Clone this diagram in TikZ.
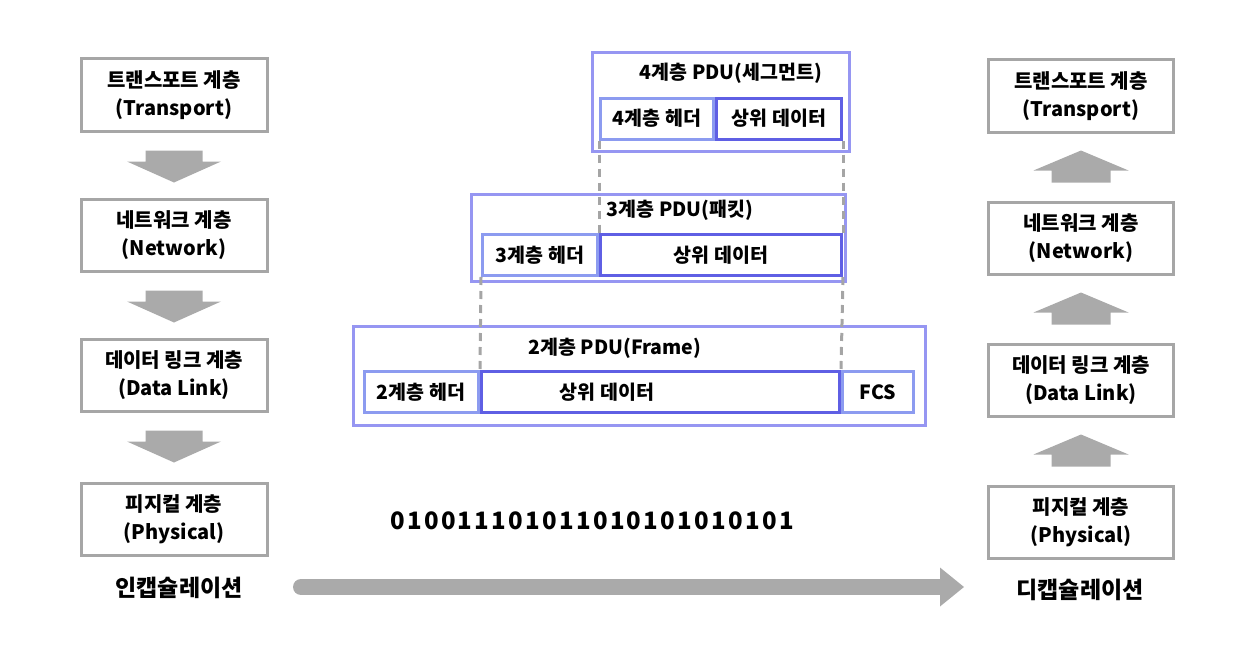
\documentclass[tikz,border=0pt]{standalone}
\usepackage{fontspec}
\setmainfont{Noto Sans CJK KR}
\definecolor{boxgray}{RGB}{166,166,166}
\definecolor{arrgray}{RGB}{170,170,170}
\definecolor{outblue}{RGB}{150,150,242}
\definecolor{hdblue}{RGB}{140,155,240}
\definecolor{dtblue}{RGB}{95,95,228}
\definecolor{dashgray}{RGB}{165,165,165}
\newcommand\dnarr[1]{\fill[arrgray] ([yshift=-18pt]#1.south) ++(-28.5,0) -- ++(0,11) -- ++(-18.5,0) -- ++(47,21) -- ++(47,-21) -- ++(-18.5,0) -- ++(0,-11) -- cycle;}
\newcommand\uparr[1]{\fill[arrgray] ([yshift=18pt]#1.north) ++(-29.5,0) -- ++(0,-12) -- ++(-18,0) -- ++(47.5,-20) -- ++(47.5,20) -- ++(-18,0) -- ++(0,12) -- cycle;}
\newcommand\bd[1]{\makebox[16.9pt]{#1}}
\begin{document}
\begin{tikzpicture}[x=1pt,y=-1pt,
  layerbox/.style={draw=boxgray,line width=3pt,minimum width=186pt,minimum height=72pt,inner sep=0pt,align=center,font=\fontsize{20}{28}\selectfont\bfseries},
  outbox/.style={draw=outblue,line width=3pt,inner sep=0pt},
  hdbox/.style={draw=hdblue,line width=3pt,inner sep=0pt,minimum height=41pt,font=\fontsize{19.5}{22}\selectfont\bfseries},
  dtbox/.style={draw=dtblue,line width=3pt,inner sep=0pt,minimum height=41pt,font=\fontsize{19.5}{22}\selectfont\bfseries},
  ttl/.style={font=\fontsize{19.5}{22}\selectfont\bfseries,inner sep=0pt},
  txt/.style={font=\fontsize{19.5}{22}\selectfont\bfseries,inner sep=0pt},
  conn/.style={draw=dashgray,line width=3pt,dash pattern=on 8pt off 6pt},
  biglab/.style={font=\fontsize{23}{26}\selectfont\bfseries,inner sep=0pt}]
\useasboundingbox (0,0) rectangle (1256,661);

% left stack
\node[layerbox] (L1) at (174,95) {트랜스포트 계층\\(Transport)};
\node[layerbox] (L2) at (174,235) {네트워크 계층\\(Network)};
\node[layerbox] (L3) at (174,375) {데이터 링크 계층\\(Data Link)};
\node[layerbox] (L4) at (174,519) {피지컬 계층\\(Physical)};
\dnarr{L1}
\dnarr{L2}
\dnarr{L3}
\node[biglab] (enc) at (179,588) {인캡슐레이션};

% right stack
\node[layerbox,minimum width=185pt] (R1) at (1081,96) {트랜스포트 계층\\(Transport)};
\node[layerbox,minimum width=185pt] (R2) at (1081,238) {네트워크 계층\\(Network)};
\node[layerbox,minimum width=185pt] (R3) at (1081,380) {데이터 링크 계층\\(Data Link)};
\node[layerbox,minimum width=185pt] (R4) at (1081,522) {피지컬 계층\\(Physical)};
\uparr{R2}
\uparr{R3}
\uparr{R4}
\node[biglab] (dec) at (1080,590) {디캡슐레이션};

% layer 4 PDU
\node[outbox,minimum width=257pt,minimum height=99pt] (P4) at (721,102) {};
\node[ttl] (P4t) at (731,73) {4계층 PDU(세그먼트)};
\node[hdbox,minimum width=113pt] (P4h) at (657,118.5) {4계층 헤더};
\node[dtbox,minimum width=125pt] (P4d) at (779,118.5) {상위 데이터};

% layer 3 PDU
\node[outbox,minimum width=374pt,minimum height=87pt] (P3) at (658.5,238) {};
\node[ttl] (P3t) at (680,210) {3계층 PDU(패킷)};
\node[hdbox,minimum width=115pt] (P3h) at (540,255) {3계층 헤더};
\node[dtbox,minimum width=241pt] (P3d) at (721,255) {상위 데이터};

% layer 2 PDU
\node[outbox,minimum width=572pt,minimum height=99pt] (P2) at (639.5,376) {};
\node[ttl] (P2t) at (615,348) {2계층 PDU(Frame)};
\node[hdbox,minimum width=114pt] (P2h) at (421,392) {2계층 헤더};
\node[hdbox,minimum width=71pt] (P2f) at (878,392) {FCS};
\node[dtbox,minimum width=358pt] (P2d) at (660.5,392) {};
\node[txt] (P2dt) at (607,392) {상위 데이터};

% dashed guides
\draw[conn] (P4h.south west) -- (P3d.north west);
\draw[conn] (P4d.south east) -- (P3d.north east);
\draw[conn] (P3h.south west) -- (P2d.north west);
\draw[conn] (P3d.south east) -- (P2d.north east);

% bits
\node[font=\fontsize{24}{28}\selectfont\bfseries,inner sep=0pt] (bits) at (592,521) {\bd0\bd1\bd0\bd0\bd1\bd1\bd1\bd0\bd1\bd0\bd1\bd1\bd0\bd1\bd0\bd1\bd0\bd1\bd0\bd1\bd0\bd1\bd0\bd1};

% big arrow
\coordinate (bs) at (301,587);
\coordinate (be) at (940,587);
\draw[arrgray,line width=16pt,line cap=round] (bs) -- (be);
\fill[arrgray] ([yshift=19.5pt]be) -- ++(24,19.5) -- ++(-24,19.5) -- cycle;
\end{tikzpicture}
\end{document}
